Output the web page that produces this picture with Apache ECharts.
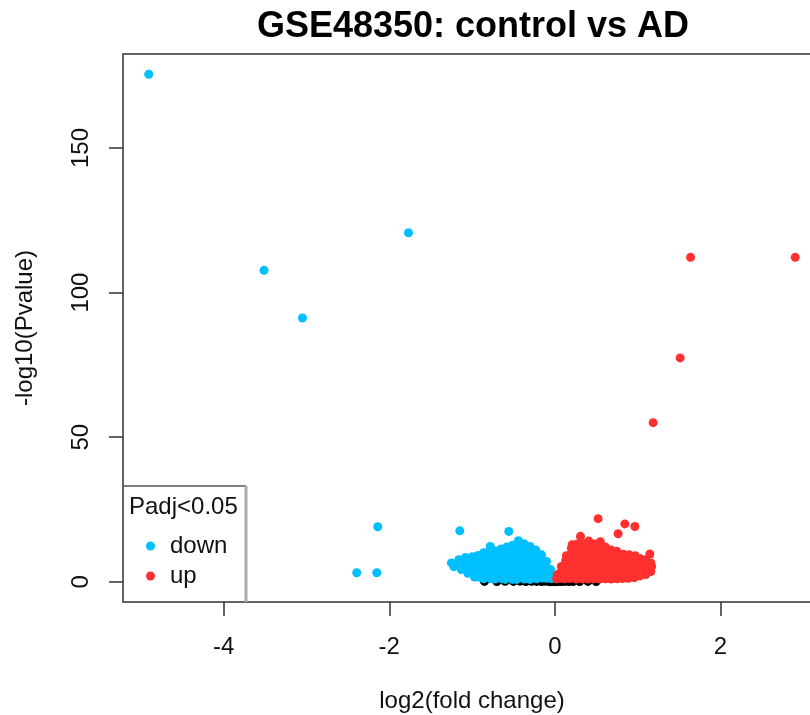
<!DOCTYPE html>
<html><head><meta charset="utf-8">
<script src="https://cdn.jsdelivr.net/npm/echarts@6/dist/echarts.min.js"></script>
<style>html,body{margin:0;padding:0;background:#fff}#c{width:810px;height:715px}</style>
</head><body><div id="c"></div><script>
const chartTitle = 'GSE48350: control vs AD';
const xTickValues = [-4, -2, 0, 2];
const yTickValues = [0, 50, 100, 150];
const legendTitle = 'Padj<0.05';

// down-regulated (blue): log2 fold change / -log10 p
const downLogFC = [-4.906,-3.513,-3.049,-1.768,-2.393,-2.151,-2.139,-1.148,-0.556,
 -1.25,-1.22,-1.16,-1.13,-1.15,-1.08,-1.09,-1.07,-1.05,-1.00,-1.01,-0.99,-1.00,-0.97,
 -0.93,-0.94,-0.92,-0.93,-0.91,-0.86,-0.87,-0.85,-0.86,-0.84,-0.86,
 -0.78,-0.80,-0.79,-0.78,-0.80,-0.79,-0.77,-0.72,-0.73,-0.71,-0.72,-0.70,-0.72,
 -0.65,-0.66,-0.64,-0.65,-0.66,-0.64,-0.58,-0.59,-0.57,-0.58,-0.59,-0.57,-0.60,
 -0.51,-0.52,-0.50,-0.51,-0.52,-0.50,-0.51,-0.44,-0.45,-0.43,-0.44,-0.45,-0.43,-0.44,-0.46,
 -0.37,-0.38,-0.36,-0.37,-0.38,-0.36,-0.37,-0.30,-0.31,-0.29,-0.30,-0.31,-0.29,-0.30,
 -0.23,-0.24,-0.22,-0.23,-0.24,-0.22,-0.16,-0.17,-0.15,-0.16,-0.15,
 -0.10,-0.11,-0.09,-0.10,-0.05,-0.05,-0.04,-0.02];
const downLogP = [175.5,107.7,91.2,120.7,3.1,3.1,19.0,17.6,17.4,
 6.5,5.2,7.6,4.2,5.8,8.4,6.3,4.4,2.9,8.6,6.7,4.8,2.9,1.6,
 9.1,7.2,5.3,3.4,1.5,10.0,8.0,6.0,4.0,2.1,1.0,
 12.2,10.3,8.2,6.3,4.4,2.5,1.0,10.6,8.7,6.6,4.6,2.6,0.9,
 11.3,9.3,7.2,5.1,3.0,1.1,12.0,10.0,7.9,5.8,3.7,1.6,0.8,
 12.6,10.5,8.4,6.3,4.2,2.1,0.8,14.2,12.1,10.0,7.9,5.8,3.7,1.6,0.8,
 13.1,11.0,8.9,6.8,4.7,2.6,0.9,12.2,10.1,8.0,5.9,3.8,1.8,0.8,
 11.0,8.9,6.8,4.7,2.7,1.0,9.3,7.2,5.1,3.0,1.3,
 7.0,4.9,2.9,1.2,4.2,2.3,1.1,1.6];

// up-regulated (red)
const upLogFC = [2.904,1.640,1.514,1.188,0.523,0.846,0.967,0.765,0.310,1.148,
 0.02,0.03,0.07,0.07,0.08,0.12,0.12,0.13,0.13,0.14,
 0.18,0.18,0.19,0.18,0.19,0.20,0.21,0.26,0.26,0.27,0.26,0.27,0.26,0.27,
 0.33,0.33,0.34,0.33,0.34,0.33,0.34,0.40,0.40,0.41,0.40,0.41,0.40,0.41,
 0.47,0.47,0.48,0.47,0.48,0.47,0.48,0.54,0.54,0.55,0.54,0.55,0.54,0.55,
 0.61,0.61,0.62,0.61,0.62,0.61,0.68,0.68,0.69,0.68,0.69,0.68,
 0.75,0.75,0.76,0.75,0.76,0.75,0.82,0.82,0.83,0.82,0.83,
 0.89,0.89,0.90,0.89,0.90,0.96,0.96,0.97,0.96,0.97,
 1.03,1.03,1.04,1.03,1.10,1.10,1.11,1.10,1.16,1.17,1.16];
const upLogP = [112.2,112.2,77.4,55.0,21.8,20.0,19.1,16.6,15.7,9.6,
 1.0,2.4,1.2,3.3,5.3,1.0,3.1,5.2,7.3,9.0,
 1.1,3.2,5.3,7.4,9.5,11.6,12.8,0.9,3.0,5.1,7.2,9.3,11.4,13.0,
 1.0,3.1,5.2,7.3,9.4,11.5,13.4,0.9,3.0,5.1,7.2,9.3,11.4,14.1,
 1.0,3.1,5.2,7.3,9.4,11.5,13.0,0.9,3.0,5.1,7.2,9.3,11.4,13.8,
 1.0,3.1,5.2,7.3,9.4,12.0,0.9,3.0,5.1,7.2,9.2,11.0,
 1.0,3.1,5.2,7.3,9.0,10.5,1.1,3.2,5.3,7.4,9.5,
 1.2,3.3,5.4,7.5,9.3,1.4,3.5,5.6,7.6,9.0,
 2.0,4.0,6.0,8.0,2.5,4.5,6.3,7.6,3.5,5.3,6.5];

// not significant (black)
const nsLogFC = [-0.85,-0.70,-0.60,-0.50,-0.42,-0.35,-0.28,-0.22,-0.16,-0.12,-0.08,-0.05,-0.03,-0.01,0.00,0.01,0.03,0.05,0.08,0.12,0.17,0.22,0.30,0.40,0.50];
const nsLogP = [0.1,0.05,0.15,0.1,0.2,0.05,0.15,0.1,0.05,0.2,0.1,0.02,0.25,0.05,0.01,0.15,0.05,0.2,0.05,0.1,0.03,0.08,0.05,0.1,0.04];

const FONT = '"Liberation Sans", Arial, Helvetica, sans-serif';
const zip = (a, b) => a.map((v, i) => [v, b[i]]);
const chart = echarts.init(document.getElementById('c'), null, {renderer: 'canvas'});
const lbl = {fontFamily: FONT, fontSize: 24, color: '#111'};
chart.setOption({
  animation: false,
  title: {text: chartTitle, left: 468, top: 4, textAlign: 'center',
    textStyle: {fontFamily: FONT, fontSize: 36, fontWeight: 'bold', color: '#000'}},
  grid: {left: 123, top: 54, width: 698, height: 548, show: true, borderColor: '#333', borderWidth: 1.5,
    backgroundColor: 'transparent', outerBoundsMode: 'none', containLabel: false},
  xAxis: {type: 'value', min: -5.217, max: 3.216, splitLine: {show: false},
    axisLine: {show: false, onZero: false},
    axisTick: {show: true, length: 14, lineStyle: {color: '#333', width: 1.5}, customValues: xTickValues},
    axisLabel: Object.assign({customValues: xTickValues, margin: 33}, lbl),
    name: 'log2(fold change)', nameLocation: 'middle', nameGap: 87, nameTextStyle: lbl},
  yAxis: {type: 'value', min: -7.02, max: 182.52, splitLine: {show: false},
    axisLine: {show: false, onZero: false},
    axisTick: {show: true, length: 14, lineStyle: {color: '#333', width: 1.5}, customValues: yTickValues},
    axisLabel: Object.assign({customValues: yTickValues, margin: 30, rotate: 90}, lbl),
    name: '-log10(Pvalue)', nameLocation: 'middle', nameGap: 86, nameTextStyle: lbl},
  legend: {data: ['down', 'up'], orient: 'vertical', left: 146, top: 534, padding: 0, itemGap: 6,
    itemWidth: 9, itemHeight: 9, icon: 'circle', selectedMode: false,
    textStyle: {fontFamily: FONT, fontSize: 24, color: '#111', lineHeight: 24, padding: [0, 0, 0, 10]}},
  graphic: [
    {type: 'line', shape: {x1: 123, y1: 486, x2: 246, y2: 486}, style: {stroke: '#555', lineWidth: 1.5}, z: 10},
    {type: 'line', shape: {x1: 246, y1: 486, x2: 246, y2: 602}, style: {stroke: '#aaa', lineWidth: 3}, z: 10},
    {type: 'text', x: 129, y: 507, z: 10, style: {text: legendTitle, fontSize: 24, fontFamily: FONT, fill: '#111',
      align: 'left', verticalAlign: 'middle'}}
  ],
  series: [
    {name: 'ns', type: 'scatter', symbolSize: 9, data: zip(nsLogFC, nsLogP), itemStyle: {color: '#000', opacity: 1}, emphasis: {disabled: true}, silent: true},
    {name: 'down', type: 'scatter', symbolSize: 9, data: zip(downLogFC, downLogP), itemStyle: {color: '#00BFFF', opacity: 1}, emphasis: {disabled: true}, silent: true},
    {name: 'up', type: 'scatter', symbolSize: 9, data: zip(upLogFC, upLogP), itemStyle: {color: '#FF3030', opacity: 1}, emphasis: {disabled: true}, silent: true}
  ]
});
</script></body></html>
